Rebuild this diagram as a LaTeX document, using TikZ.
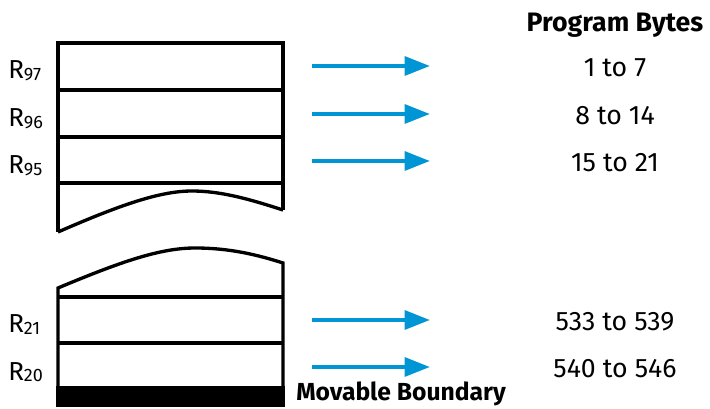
\documentclass[tikz,border=0pt]{standalone}
\usepackage{fontspec}
\setmainfont{Fira Sans}
\usetikzlibrary{arrows.meta}
\definecolor{hpblue}{RGB}{0,150,214}
\tikzset{
  regline/.style={line width=2.5pt},
  bytearrow/.style={hpblue, line width=3pt, -{Triangle[length=19pt,width=14pt]}},
  reglabel/.style={font=\fontsize{19.5}{19.5}\selectfont, inner sep=0pt, anchor=base west},
  bytelabel/.style={font=\fontsize{20}{20}\selectfont, inner sep=0pt},
  headlabel/.style={font=\bfseries\fontsize{20}{20}\selectfont, inner sep=0pt}
}
\newcommand{\regsub}[1]{\raisebox{-1pt}{\fontsize{13.5}{13.5}\selectfont #1}}
\begin{document}
\begin{tikzpicture}[x=0.75pt,y=-0.75pt]
\useasboundingbox (0,0) rectangle (710,409);

% Top block
\draw[regline] (58,232) -- (58,43) -- (283,43) -- (283,210);
\draw[regline] (58,232) .. controls (120,205) and (160,191) .. (192,191)
  .. controls (222,191) and (252,200) .. (283,210);
\foreach \y in {90,137,183}
{
\draw[regline] (58,\y) -- (283,\y);
}

% Bottom block
\draw[regline] (58,387) -- (58,288) .. controls (120,262) and (160,248) .. (195,248)
  .. controls (230,248) and (258,255) .. (283,263) -- (283,387);
\foreach \y in {297,343}
{
\draw[regline] (58,\y) -- (283,\y);
}
\fill (56,386) rectangle (285,407);

% Registers and bytes
\foreach \n/\y/\t in {
97/66/1 to 7,
96/114/8 to 14,
95/161/15 to 21,
21/320/533 to 539,
20/367/540 to 546
}
{
\node[reglabel] (r\n) at (8,\y+13) {R\regsub{\n}};
\coordinate (s\n) at (312,\y);
\coordinate (e\n) at (430,\y);
\draw[bytearrow] (s\n) -- (e\n);
\node[bytelabel] (b\n) at (615,\y+2) {\t};
}

\node[headlabel] (head) at (615,25) {Program Bytes};
\node[headlabel, font=\bfseries\fontsize{18.5}{18.5}\selectfont, anchor=base west]
  (boundary) at (296,401) {Movable Boundary};

\end{tikzpicture}
\end{document}
